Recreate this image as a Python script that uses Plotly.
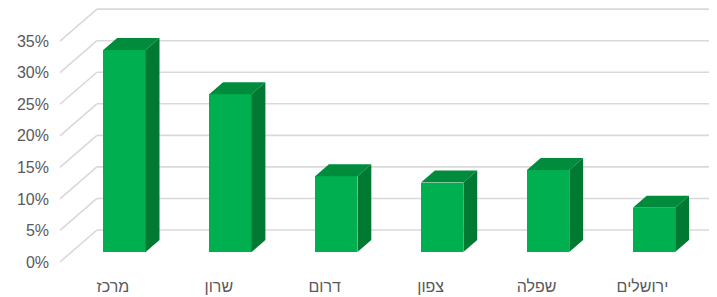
import plotly.graph_objects as go

categories = ["מרכז", "שרון", "דרום", "צפון", "שפלה", "ירושלים"]
values = [32, 25, 12, 11, 13, 7]
y_ticks = [0, 5, 10, 15, 20, 25, 30, 35]
y_tick_labels = [f"{t}%" for t in y_ticks]

# 3D projection geometry (oblique): depth vector in axis units
DX = 0.349   # category units
DY = 5.07    # value units
F1, F2 = 0.3126, 0.6874  # bar front/back depth fraction
BW = 0.40    # bar width (category units)

FRONT = "#00b050"
TOP = "#008c3c"
SIDE = "#007a33"
GRID = "#d9d9d9"

fig = go.Figure()

# front faces via bar trace
xs = list(range(len(categories)))
fig.add_trace(go.Bar(
    x=[i + F1 * DX for i in xs],
    y=values,
    base=[F1 * DY] * len(values),
    width=BW,
    marker=dict(color=FRONT, line=dict(width=0)),
    hoverinfo="skip",
    showlegend=False,
))

# top and side faces
for i, v in zip(xs, values):
    xl, xr = i - BW / 2, i + BW / 2
    fig.add_trace(go.Scatter(
        x=[xl + F1 * DX, xr + F1 * DX, xr + F2 * DX, xl + F2 * DX, xl + F1 * DX],
        y=[v + F1 * DY, v + F1 * DY, v + F2 * DY, v + F2 * DY, v + F1 * DY],
        fill="toself", fillcolor=TOP, mode="lines", line=dict(width=0, color=TOP),
        hoverinfo="skip", showlegend=False,
    ))
    fig.add_trace(go.Scatter(
        x=[xr + F1 * DX, xr + F2 * DX, xr + F2 * DX, xr + F1 * DX, xr + F1 * DX],
        y=[F1 * DY, F2 * DY, v + F2 * DY, v + F1 * DY, F1 * DY],
        fill="toself", fillcolor=SIDE, mode="lines", line=dict(width=0, color=SIDE),
        hoverinfo="skip", showlegend=False,
    ))

# back wall gridlines and side wall diagonals
x_left = -0.5
x_right_back = 5.628
for t in y_ticks:
    fig.add_shape(type="line", xref="x", yref="y", layer="below",
                  x0=x_left + DX, x1=x_right_back, y0=t + DY, y1=t + DY,
                  line=dict(color=GRID, width=1.6))
    fig.add_shape(type="line", xref="x", yref="y", layer="below",
                  x0=x_left, x1=x_left + DX, y0=t, y1=t + DY,
                  line=dict(color=GRID, width=1.6))

fig.update_layout(
    width=717, height=297,
    margin=dict(l=50, r=0, t=0, b=22),
    plot_bgcolor="white", paper_bgcolor="white",
    font=dict(family="Liberation Sans, Arial, sans-serif", color="#595959", size=16),
    bargap=0,
    xaxis=dict(range=[-0.594, 5.704], tickvals=xs, ticktext=categories,
               showgrid=False, zeroline=False, showline=False, ticks="",
               tickfont=dict(size=16, color="#595959"), fixedrange=True),
    yaxis=dict(range=[-2.06, 41.52], tickvals=y_ticks, ticktext=y_tick_labels,
               showgrid=False, zeroline=False, showline=False, ticks="",
               tickfont=dict(size=16, color="#595959"), fixedrange=True),
)

fig.write_html("out.html", config={"displayModeBar": False},
               post_script="document.body.style.margin='0px';")
